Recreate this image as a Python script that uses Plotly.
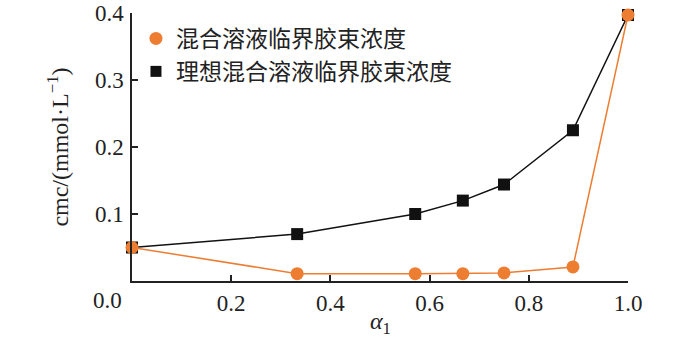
import plotly.graph_objects as go

# data
alpha1 = [0.0, 0.333, 0.571, 0.667, 0.75, 0.889, 1.0]
cmc_mixed = [0.050, 0.011, 0.011, 0.011, 0.012, 0.021, 0.397]
cmc_ideal = [0.050, 0.070, 0.100, 0.120, 0.144, 0.225, 0.397]
name_mixed = "混合溶液临界胶束浓度"
name_ideal = "理想混合溶液临界胶束浓度"
x_ticks = [0.2, 0.4, 0.6, 0.8, 1.0]
x_ticklabels = ["0.2", "0.4", "0.6", "0.8", "1.0"]
y_ticks = [0.1, 0.2, 0.3, 0.4]
y_ticklabels = ["0.1", "0.2", "0.3", "0.4"]

ORANGE = "#ED7D31"
BLACK = "#111111"
TXT = "#222222"
SERIF = "Liberation Serif"
CJK = "Noto Sans CJK SC"

fig = go.Figure()
fig.add_trace(go.Scatter(
    x=alpha1, y=cmc_ideal, mode="lines+markers", showlegend=False,
    line=dict(color=BLACK, width=1.5),
    marker=dict(symbol="square", size=12, color=BLACK),
    cliponaxis=False))
fig.add_trace(go.Scatter(
    x=alpha1, y=cmc_mixed, mode="lines+markers", showlegend=False,
    line=dict(color=ORANGE, width=1.5),
    marker=dict(symbol="circle", size=13, color=ORANGE),
    cliponaxis=False))
# legend entries (markers only)
fig.add_trace(go.Scatter(
    x=[None], y=[None], mode="markers", name=name_mixed,
    marker=dict(symbol="circle", size=13, color=ORANGE), legendrank=1))
fig.add_trace(go.Scatter(
    x=[None], y=[None], mode="markers", name=name_ideal,
    marker=dict(symbol="square", size=11, color=BLACK), legendrank=2))

fig.update_layout(
    width=700, height=343,
    margin=dict(l=132, r=72, t=13, b=62),
    plot_bgcolor="white", paper_bgcolor="white",
    font=dict(family=SERIF, size=23, color=TXT),
    legend=dict(
        x=0.008, y=0.985, xanchor="left", yanchor="top",
        font=dict(family=CJK, size=23, color=TXT),
        bgcolor="rgba(0,0,0,0)", borderwidth=0,
        tracegroupgap=0, itemsizing="trace",
    ),
    xaxis=dict(
        range=[0, 1], tickvals=x_ticks, ticktext=x_ticklabels,
        showline=True, linecolor=TXT, linewidth=1.5,
        ticks="inside", ticklen=6, tickwidth=1.5, tickcolor=TXT,
        showgrid=False, zeroline=False, ticklabelstandoff=1,
        ticklabeloverflow="allow", automargin=False,
        tickfont=dict(family=SERIF, size=23, color=TXT),
    ),
    yaxis=dict(
        range=[0, 0.4], tickvals=y_ticks, ticktext=y_ticklabels,
        showline=True, linecolor=TXT, linewidth=1.5,
        ticks="inside", ticklen=6, tickwidth=1.5, tickcolor=TXT,
        showgrid=False, zeroline=False, ticklabelstandoff=2,
        ticklabeloverflow="allow", automargin=False,
        tickfont=dict(family=SERIF, size=23, color=TXT),
    ),
)

fig.add_annotation(
    xref="paper", yref="paper", x=0, y=0, xanchor="right", yanchor="top",
    xshift=-8, yshift=-5, text="0.0", showarrow=False,
    font=dict(family=SERIF, size=23, color=TXT))
fig.add_annotation(
    xref="paper", yref="paper", x=-0.15, y=0.5, textangle=-90,
    xanchor="center", yanchor="middle",
    text="cmc/(mmol·L<sup>−1</sup>)", showarrow=False,
    font=dict(family=SERIF, size=24, color=TXT))
fig.add_annotation(
    xref="paper", yref="paper", x=0.5, y=0, yanchor="middle",
    yshift=-42, text="<i>α</i><sub>1</sub>", showarrow=False,
    font=dict(family=SERIF, size=24, color=TXT))

fig.write_html("out.html")
